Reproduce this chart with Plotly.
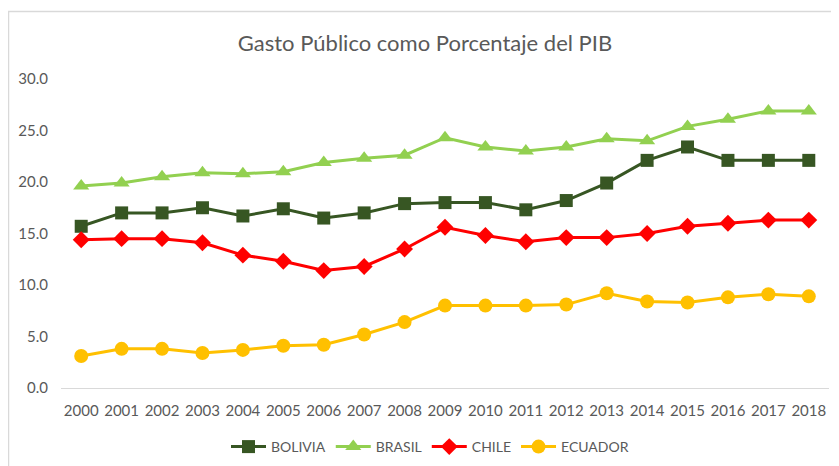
import plotly.graph_objects as go

years = [str(y) for y in range(2000, 2019)]
bolivia = [15.7, 17.0, 17.0, 17.5, 16.7, 17.4, 16.5, 17.0, 17.9, 18.0, 18.0, 17.3, 18.2, 19.9, 22.1, 23.4, 22.1, 22.1, 22.1]
brasil = [19.6, 19.9, 20.5, 20.9, 20.8, 21.0, 21.9, 22.3, 22.6, 24.3, 23.4, 23.0, 23.4, 24.2, 24.0, 25.4, 26.1, 26.9, 26.9]
chile = [14.4, 14.5, 14.5, 14.1, 12.9, 12.3, 11.4, 11.8, 13.5, 15.6, 14.8, 14.2, 14.6, 14.6, 15.0, 15.7, 16.0, 16.3, 16.3]
ecuador = [3.1, 3.8, 3.8, 3.4, 3.7, 4.1, 4.2, 5.2, 6.4, 8.0, 8.0, 8.0, 8.1, 9.2, 8.4, 8.3, 8.8, 9.1, 8.9]
y_ticks = [0, 5, 10, 15, 20, 25, 30]

series = [
    ("BOLIVIA", bolivia, "#375623", "square", 13),
    ("BRASIL", brasil, "#92D050", "triangle-up", 14),
    ("CHILE", chile, "#FF0000", "diamond", 13),
    ("ECUADOR", ecuador, "#FFC000", "circle", 14),
]

fig = go.Figure()
for name, vals, col, sym, sz in series:
    fig.add_trace(go.Scatter(
        x=years, y=vals, name=name, mode="lines+markers",
        line=dict(color=col, width=3),
        marker=dict(symbol=sym, size=sz, color=col),
    ))

# the page body adds an 8px offset; work in window pixels and convert
O = 8
W, H = 839 - O, 466 - O
# window-pixel plot area: x 61..829, y 79..388
X0, X1, Y0, Y1 = 61, 829, 79, 388
L, R, T, B = X0 - O, (O + W) - X1, Y0 - O, (O + H) - Y1
pw, ph = W - L - R, H - T - B

def px(x):
    return (x - X0) / pw

def py(y):
    return (Y1 - y) / ph

fig.add_shape(type="rect", xref="paper", yref="paper",
              x0=px(O + 0.5), x1=px(860), y0=py(11.5), y1=py(490),
              line=dict(color="#D9D9D9", width=1.5), layer="below")

font = "Lato"
fig.update_layout(
    width=W, height=H,
    margin=dict(l=L, r=R, t=T, b=B, autoexpand=False),
    paper_bgcolor="white", plot_bgcolor="white",
    title=dict(text="Gasto Público como Porcentaje del PIB",
               xref="container", x=(425 - O) / W, xanchor="center",
               yref="container", y=1 - (43 - O) / H, yanchor="middle",
               font=dict(family=font, size=22, color="#595959")),
    showlegend=True,
    legend=dict(orientation="h", x=px(430), xanchor="center", y=py(447), yanchor="middle",
                font=dict(family=font, size=14, color="#595959"),
                itemwidth=35, traceorder="normal"),
    xaxis=dict(type="category", range=[-0.5, len(years) - 0.5],
               showgrid=False, showline=False, zeroline=False,
               automargin=False,
               tickfont=dict(family=font, size=15, color="#595959"),
               ticks="", ticklabelstandoff=12),
    yaxis=dict(range=[0, 30], tickvals=y_ticks, tickformat=".1f",
               showgrid=False, zeroline=True, zerolinecolor="#D9D9D9", zerolinewidth=1,
               showline=False, automargin=False,
               tickfont=dict(family=font, size=15, color="#595959"),
               ticks="", ticklabelstandoff=12),
)

fig.write_html("out.html")
